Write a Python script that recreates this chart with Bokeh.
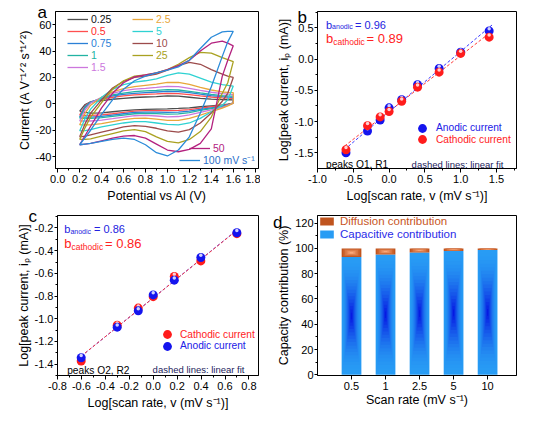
import numpy as np
from bokeh.plotting import figure
from bokeh.layouts import column, row
from bokeh.models import (Range1d, FixedTicker, NumeralTickFormatter, Legend,
                          LegendItem, Label, ColumnDataSource)
from bokeh.embed import file_html
from bokeh.resources import INLINE

FONT = "Liberation Sans"

# ---------------- Panel a: CV curves ----------------
cv_potential = [0.2, 0.25, 0.3, 0.4, 0.5, 0.6, 0.7, 0.8, 0.9, 1.0, 1.1, 1.2, 1.3, 1.4, 1.5, 1.55, 1.6]

cv_up_0p25 = [-5.5, -0.5, 1.5, 2.5, 3.5, 4.2, 4.8, 5.2, 5.5, 6.0, 5.8, 5.0, 4.2, 3.6, 3.2, 3.1, 3.0]
cv_dn_0p25 = [-5.5, -6.4, -7.0, -6.8, -6.0, -5.2, -4.5, -4.2, -4.0, -3.8, -3.5, -3.0, -2.2, -1.5, -0.8, -0.3, 0.5]
cv_up_0p5 = [-8.5, -1.5, 1.5, 3.5, 5.0, 6.0, 6.8, 7.2, 7.5, 8.0, 7.8, 7.0, 6.0, 5.2, 4.6, 4.4, 4.2]
cv_dn_0p5 = [-8.5, -8.7, -8.8, -8.3, -7.5, -6.5, -5.5, -5.2, -5.2, -5.2, -5.0, -4.3, -3.2, -2.2, -1.2, -0.5, 0.5]
cv_up_0p75 = [-10.0, -2.0, 1.5, 4.0, 6.0, 7.2, 8.0, 8.5, 9.0, 9.5, 9.3, 8.5, 7.3, 6.3, 5.5, 5.2, 5.0]
cv_dn_0p75 = [-10.0, -10.0, -10.0, -9.5, -8.5, -7.5, -6.5, -6.2, -6.3, -6.5, -6.3, -5.5, -4.2, -3.0, -1.8, -0.8, 0.5]
cv_up_1 = [-11.0, -3.0, 1.0, 4.5, 6.8, 8.2, 9.2, 9.8, 10.2, 10.8, 10.5, 9.5, 8.3, 7.2, 6.3, 6.0, 5.8]
cv_dn_1 = [-11.0, -11.0, -11.0, -10.5, -9.5, -8.5, -7.5, -7.2, -7.4, -7.8, -7.6, -6.6, -5.0, -3.6, -2.2, -1.0, 0.5]
cv_up_1p5 = [-13.0, -4.5, 0.5, 5.0, 8.0, 10.0, 11.2, 11.8, 12.5, 13.3, 13.0, 11.8, 10.2, 8.8, 7.7, 7.3, 7.0]
cv_dn_1p5 = [-13.0, -13.0, -13.0, -12.3, -11.2, -10.0, -9.0, -8.8, -9.2, -9.8, -9.6, -8.3, -6.5, -4.5, -2.6, -1.2, 0.5]
cv_up_2p5 = [-16.0, -7.0, -1.0, 5.0, 9.0, 11.5, 13.0, 14.0, 15.0, 16.3, 16.2, 14.8, 12.5, 10.5, 9.0, 8.7, 8.5]
cv_dn_2p5 = [-16.0, -16.0, -16.0, -15.0, -13.5, -12.0, -11.0, -10.8, -11.5, -12.5, -12.5, -11.0, -8.5, -5.8, -3.2, -1.5, 0.5]
cv_up_5 = [-20.5, -11.0, -4.0, 5.0, 11.0, 14.5, 16.5, 17.5, 19.0, 21.5, 23.5, 22.5, 19.5, 16.5, 14.5, 14.0, 13.5]
cv_dn_5 = [-20.5, -20.3, -19.5, -17.5, -16.0, -14.5, -13.5, -13.5, -14.5, -15.5, -16.0, -14.5, -11.0, -6.0, -1.0, 3.0, 13.5]
cv_up_10 = [-25.0, -15.0, -7.0, 3.0, 12.0, 17.0, 20.0, 21.0, 22.5, 25.5, 29.0, 31.5, 30.0, 26.0, 22.5, 21.0, 20.0]
cv_dn_10 = [-25.0, -24.5, -23.5, -21.5, -19.5, -17.5, -16.5, -17.0, -18.5, -20.5, -21.5, -19.5, -14.5, -7.0, 2.0, 8.0, 20.0]
cv_up_25 = [-27.0, -18.0, -10.0, 1.0, 11.0, 17.5, 21.0, 22.0, 23.5, 26.0, 30.0, 35.0, 39.0, 38.5, 35.0, 33.5, 32.0]
cv_dn_25 = [-27.0, -27.0, -26.5, -24.5, -22.5, -20.5, -19.5, -21.0, -25.0, -28.5, -29.5, -27.0, -21.0, -10.0, 8.0, 16.0, 32.0]
cv_up_50 = [-31.0, -24.0, -17.0, -3.0, 8.0, 16.0, 20.5, 22.0, 23.5, 26.0, 29.0, 33.0, 40.0, 46.0, 47.5, 46.0, 44.0]
cv_dn_50 = [-31.0, -30.5, -30.0, -28.0, -26.0, -24.5, -24.0, -26.0, -30.5, -35.0, -36.3, -34.5, -30.0, -19.0, 21.0, 33.0, 44.0]
cv_up_100 = [-31.0, -25.5, -20.0, -8.0, 3.0, 11.0, 17.5, 21.0, 23.5, 25.5, 28.0, 33.0, 42.0, 50.5, 54.5, 55.0, 55.0]
cv_dn_100 = [-31.0, -30.5, -30.0, -28.5, -27.0, -26.0, -27.0, -31.0, -37.0, -39.5, -35.0, -25.0, -7.0, 13.0, 36.0, 47.0, 55.0]

cv_labels = ["0.25", "0.5", "0.75", "1", "1.5", "2.5", "5", "10", "25", "50", "100 mV s⁻¹"]
cv_up = [cv_up_0p25, cv_up_0p5, cv_up_0p75, cv_up_1, cv_up_1p5, cv_up_2p5, cv_up_5,
         cv_up_10, cv_up_25, cv_up_50, cv_up_100]
cv_dn = [cv_dn_0p25, cv_dn_0p5, cv_dn_0p75, cv_dn_1, cv_dn_1p5, cv_dn_2p5, cv_dn_5,
         cv_dn_10, cv_dn_25, cv_dn_50, cv_dn_100]
cv_colors = ["#4d4d4d", "#ff4f4f", "#2b80d6", "#22b3a3", "#cc77dd", "#e8a63a",
             "#2fd2d2", "#9c4b4b", "#a9a121", "#b3217f", "#2b8bd9"]
cv_text_colors = ["#111111", "#ff2a2a", "#2b80d6", "#22b3a3", "#cc77dd", "#e8a63a",
                  "#2fd2d2", "#9c4b4b", "#a9a121", "#b3217f", "#2b6fc9"]

# ---------------- Panel b ----------------
b_rates = [0.25, 0.5, 0.75, 1, 1.5, 2.5, 5, 10, 25]
b_anodic = [-1.50, -1.15, -0.975, -0.78, -0.65, -0.41, -0.15, 0.11, 0.45]
b_cathodic = [-1.45, -1.065, -0.925, -0.84, -0.675, -0.45, -0.21, 0.09, 0.35]

# ---------------- Panel c ----------------
c_rates = [0.25, 0.5, 0.75, 1, 1.5, 2.5, 5]
c_cathodic = [-1.372, -1.057, -0.906, -0.805, -0.627, -0.49, -0.25]
c_anodic = [-1.344, -1.074, -0.93, -0.79, -0.66, -0.46, -0.242]

# ---------------- Panel d ----------------
d_rates = ["0.5", "1", "2.5", "5", "10"]
d_capacitive = [93.2, 95.1, 96.8, 98.0, 98.8]
d_diffusion = [6.8, 4.9, 3.2, 2.0, 1.2]


def mix(c1, c2, t):
    return "#%02x%02x%02x" % tuple(int(round(a + (b - a) * t)) for a, b in zip(c1, c2))


def make_fig(w, h, xr, yr, bl, br, bt, bb):
    p = figure(width=w, height=h, x_range=Range1d(*xr), y_range=Range1d(*yr),
               output_backend="svg", toolbar_location=None, tools="",
               min_border_left=bl, min_border_right=br, min_border_top=bt,
               min_border_bottom=bb, title_location=None)
    p.outline_line_color = "black"
    p.outline_line_width = 1
    p.outline_line_alpha = 1
    p.xgrid.visible = False
    p.ygrid.visible = False
    p.background_fill_color = "white"
    p.border_fill_color = "white"
    for ax in (p.xaxis[0], p.yaxis[0]):
        ax.axis_line_color = "black"
        ax.major_tick_line_color = "black"
        ax.minor_tick_line_color = "black"
        ax.major_tick_in = 0
        ax.minor_tick_in = 0
        ax.minor_tick_out = 2
        ax.major_label_text_font = FONT
        ax.major_label_text_font_size = "11px"
        ax.major_label_text_color = "black"
        ax.axis_label_text_font = FONT
        ax.axis_label_text_font_size = "12.5px"
        ax.axis_label_text_font_style = "normal"
        ax.axis_label_text_color = "black"
    p.xaxis.major_tick_out = 4
    p.xaxis.major_label_standoff = 2
    p.xaxis.axis_label_standoff = 3
    p.yaxis.major_tick_out = 3
    p.yaxis.major_label_standoff = 1
    p.yaxis.axis_label_standoff = 1
    geom = dict(xr=xr, yr=yr, fw=w - bl - br, fh=h - bt - bb)
    return p, geom


def to_data(g, px, py):
    x0, x1 = g["xr"]
    y0, y1 = g["yr"]
    return x0 + px / g["fw"] * (x1 - x0), y1 - py / g["fh"] * (y1 - y0)


def add_text(p, g, px, py, text, size, color, align="left", baseline="alphabetic", place="center"):
    x, y = to_data(g, px, py)
    lab = Label(x=x, y=y, text=text, text_font=FONT, text_font_size=size,
                text_color=color, text_align=align, text_baseline=baseline)
    p.add_layout(lab, place)


def add_legend(p, g, renderers, label, color, size, sx, center_top, gw, gh, standoff):
    lg = Legend(items=[LegendItem(label=label, renderers=renderers)],
                location=(sx, g["fh"] - center_top - gh / 2.0),
                label_text_font=FONT, label_text_font_size=size, label_text_color=color,
                glyph_width=gw, glyph_height=gh, label_height=gh, label_width=10,
                label_standoff=standoff, padding=0, margin=0, spacing=0,
                border_line_alpha=0, background_fill_alpha=0)
    p.add_layout(lg)


def ticks(lo, hi, step):
    n = int(round((hi - lo) / step))
    return [round(lo + i * step, 4) for i in range(n + 1)]


LETTER = "17px"

# ================= Panel a =================
pa, ga = make_fig(260, 206, (-0.02, 1.83), (-49, 70), 55, 2, 11, 37)
pa.xaxis.axis_label = "Potential vs Al (V)"
pa.yaxis.axis_label = "Current (A V⁻¹ᐟ² s⁺¹ᐟ²)"
pa.xaxis.ticker = FixedTicker(ticks=ticks(0, 1.8, 0.2), minor_ticks=ticks(0.1, 1.7, 0.2))
pa.yaxis.ticker = FixedTicker(ticks=ticks(-40, 60, 20), minor_ticks=ticks(-30, 50, 20))
pa.xaxis.formatter = NumeralTickFormatter(format="0.0")
pa.yaxis.formatter = NumeralTickFormatter(format="0")

a_renderers = []
for up, dn, col in zip(cv_up, cv_dn, cv_colors):
    xs = cv_potential + cv_potential[::-1]
    ys = up + dn[::-1]
    a_renderers.append(pa.line(xs, ys, line_color=col, line_width=1.3))

# legend placement (pixels from frame left / frame top)
a_leg_pos = [(12, 8.5), (12, 20.5), (12, 32.5), (12, 44.5), (12, 56.5),
             (77, 8.5), (77, 20.5), (77, 32.5), (77, 44.5),
             (134, 137.5), (124, 150.5)]
for r, lab, tc, (sx, ct) in zip(a_renderers, cv_labels, cv_text_colors, a_leg_pos):
    add_legend(pa, ga, [r], lab, tc, "10.5px", sx, ct, 21, 12, 3)

add_text(pa, ga, -18, 0.6, "a", LETTER, "black", place="left")

# ================= Panel b =================
pb, gb = make_fig(258, 206, (-1.0, 1.78), (-1.75, 0.76), 57, 2, 11, 38)
pb.xaxis.axis_label = "Log[scan rate, v (mV s⁻¹)]"
pb.yaxis.axis_label = "Log[peak current, iₚ (mA)]"
pb.xaxis.ticker = FixedTicker(ticks=ticks(-1.0, 1.5, 0.5), minor_ticks=ticks(-0.75, 1.75, 0.5))
pb.yaxis.ticker = FixedTicker(ticks=ticks(-1.5, 0.5, 0.5), minor_ticks=ticks(-1.25, 0.75, 0.5))
pb.xaxis.formatter = NumeralTickFormatter(format="0.0")
pb.yaxis.formatter = NumeralTickFormatter(format="0.0")

BLUE = "#1414ee"
RED = "#ff1c1c"
xb = list(np.log10(b_rates))
for yy, col in ((b_anodic, "#3a3aff"), (b_cathodic, "#ff3a3a")):
    k, c0 = np.polyfit(xb, yy, 1)
    lx = [min(xb) - 0.02, max(xb) + 0.05]
    pb.line(lx, [k * v + c0 for v in lx], line_color=col, line_width=1, line_dash="3 2")

dpx_b = (gb["yr"][1] - gb["yr"][0]) / gb["fh"]
rb_an = pb.scatter(xb, b_anodic, size=9, fill_color=BLUE, line_color=None)
pb.scatter(xb, [v + 2.2 * dpx_b for v in b_anodic], size=3.5, fill_color="white",
           fill_alpha=0.8, line_color=None)
rb_ca = pb.scatter(xb, b_cathodic, size=9, fill_color=RED, line_color=None)
pb.scatter(xb, [v + 2.2 * dpx_b for v in b_cathodic], size=3.5, fill_color="white",
           fill_alpha=0.8, line_color=None)

add_legend(pb, gb, [rb_an], "Anodic current", "#2020e6", "10.2px", 94, 116.5, 22, 22, 3)
add_legend(pb, gb, [rb_ca], "Cathodic current", "#ff2222", "10.2px", 94, 128, 22, 22, 3)

add_text(pb, gb, 8.5, 13, "b", "11px", "#2222e0")
add_text(pb, gb, 14.6, 15.3, "anodic", "7px", "#2222e0")
add_text(pb, gb, 37.5, 13, "= 0.96", "11px", "#2222e0")
add_text(pb, gb, 8.5, 27, "b", "13px", "#ff2222")
add_text(pb, gb, 15.7, 30, "cathodic", "8.5px", "#ff2222")
add_text(pb, gb, 49, 27, "= 0.89", "13px", "#ff2222")
add_text(pb, gb, 8.5, 153, "peaks O1, R1", "10.2px", "black")
add_text(pb, gb, 186, 153, "dashed lines: linear fit", "9.5px", "#1c1c5c", align="right")
add_text(pb, gb, -20, 6.3, "b", LETTER, "black", place="left")

# ================= Panel c =================
pc, gc = make_fig(260, 207, (-0.8, 0.88), (-1.5, -0.09), 57, 2, 8, 38)
pc.xaxis.axis_label = "Log[scan rate, v (mV s⁻¹)]"
pc.yaxis.axis_label = "Log[peak current, iₚ (mA)]"
pc.xaxis.ticker = FixedTicker(ticks=ticks(-0.8, 0.8, 0.2), minor_ticks=ticks(-0.7, 0.7, 0.2))
pc.yaxis.ticker = FixedTicker(ticks=ticks(-1.4, -0.2, 0.2), minor_ticks=ticks(-1.5, -0.1, 0.2))
pc.xaxis.formatter = NumeralTickFormatter(format="0.0")
pc.yaxis.formatter = NumeralTickFormatter(format="0.0")

xc = list(np.log10(c_rates))
for yy, col in ((c_anodic, "#3a3aff"), (c_cathodic, "#ff3a3a")):
    k, c0 = np.polyfit(xc, yy, 1)
    lx = [min(xc), max(xc)]
    pc.line(lx, [k * v + c0 for v in lx], line_color=col, line_width=1, line_dash="3 2")

dpx_c = (gc["yr"][1] - gc["yr"][0]) / gc["fh"]
rc_ca = pc.scatter(xc, c_cathodic, size=9, fill_color=RED, line_color=None)
pc.scatter(xc, [v + 2.2 * dpx_c for v in c_cathodic], size=3.5, fill_color="white",
           fill_alpha=0.8, line_color=None)
rc_an = pc.scatter(xc, c_anodic, size=9, fill_color=BLUE, line_color=None)
pc.scatter(xc, [v + 2.2 * dpx_c for v in c_anodic], size=3.5, fill_color="white",
           fill_alpha=0.8, line_color=None)

add_legend(pc, gc, [rc_ca], "Cathodic current", "#ff2222", "10.2px", 99, 120, 22, 22, 2)
add_legend(pc, gc, [rc_an], "Anodic current", "#2020e6", "10.2px", 99, 131.5, 22, 22, 2)

add_text(pc, gc, 6.8, 14, "b", "11px", "#2222e0")
add_text(pc, gc, 12.9, 16.5, "anodic", "7px", "#2222e0")
add_text(pc, gc, 36.5, 14, "= 0.86", "11px", "#2222e0")
add_text(pc, gc, 6.8, 28.4, "b", "13px", "#ff2222")
add_text(pc, gc, 14.0, 31.5, "cathodic", "8.5px", "#ff2222")
add_text(pc, gc, 47.5, 28.4, "= 0.86", "13px", "#ff2222")
add_text(pc, gc, 9.7, 156, "peaks O2, R2", "10.2px", "black")
add_text(pc, gc, 187, 155, "dashed lines: linear fit", "9.5px", "#1c1c5c", align="right")
add_text(pc, gc, -29, 0.7, "c", LETTER, "black", place="left")

# ================= Panel d =================
pd_, gd = make_fig(258, 207, (0, 5.85), (-0.5, 126), 57, 2, 9, 35)
pd_.xaxis.axis_label = "Scan rate (mV s⁻¹)"
pd_.yaxis.axis_label = "Capacity contribution (%)"
bar_pos = list(range(1, len(d_rates) + 1))
pd_.xaxis.ticker = FixedTicker(ticks=bar_pos, minor_ticks=[])
pd_.xaxis.major_label_overrides = {i: s for i, s in zip(bar_pos, d_rates)}
pd_.yaxis.ticker = FixedTicker(ticks=ticks(0, 120, 20), minor_ticks=ticks(10, 110, 20))
pd_.yaxis.formatter = NumeralTickFormatter(format="0")
pd_.xaxis.axis_label_standoff = 0

bar_w = 0.58
cap_edge, cap_center = (40, 156, 244), (6, 26, 226)
n_cap = 18
cap_outer = None
for k in range(n_cap):
    f = 1 - k / n_cap
    t = (k / (n_cap - 1)) ** 1.8
    src = ColumnDataSource(dict(x=bar_pos, y=[c / 2 for c in d_capacitive],
                                w=[bar_w * f] * len(bar_pos), h=[c * f for c in d_capacitive]))
    r = pd_.rect(x="x", y="y", width="w", height="h", source=src,
                 fill_color=mix(cap_edge, cap_center, t), line_color=None)
    if cap_outer is None:
        cap_outer = r

dif_edge, dif_center = (192, 84, 30), (250, 168, 122)
n_dif = 6
dif_outer = None
for k in range(n_dif):
    f = 1 - k / n_dif
    t = k / (n_dif - 1)
    src = ColumnDataSource(dict(x=bar_pos, y=[c + d / 2 for c, d in zip(d_capacitive, d_diffusion)],
                                w=[bar_w * f] * len(bar_pos), h=[d * f for d in d_diffusion]))
    r = pd_.rect(x="x", y="y", width="w", height="h", source=src,
                 fill_color=mix(dif_edge, dif_center, t), line_color=None)
    if dif_outer is None:
        dif_outer = r

dif_key = pd_.scatter(x=[], y=[], marker="square", size=6, fill_color=mix(dif_edge, dif_center, 1), line_color=None)
cap_key = pd_.scatter(x=[], y=[], marker="square", size=6, fill_color=mix(cap_edge, cap_center, 0.8), line_color=None)

add_legend(pd_, gd, [dif_outer, dif_key], "Diffusion contribution", "#c8561e", "11.5px", 1, 10, 17, 10, 5)
add_legend(pd_, gd, [cap_outer, cap_key], "Capacitive contribution", "#2b2be8", "11.5px", 1, 22.5, 17, 10, 5)

add_text(pd_, gd, -44.5, 7.4, "d", LETTER, "black", place="left")

layout = column(row(pa, pb), row(pc, pd_))
open("out.html", "w").write(file_html(layout, INLINE))
